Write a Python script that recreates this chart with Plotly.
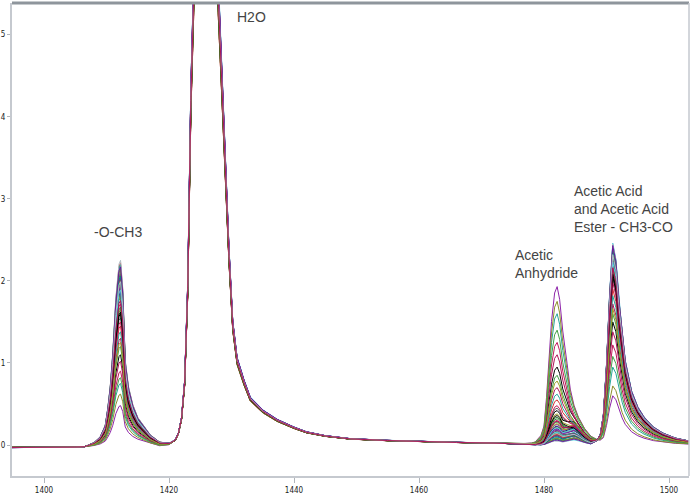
import numpy as np
import plotly.graph_objects as go

# wavelength grid (nm)
wn = [1394, 1397, 1400, 1403, 1405, 1406.5, 1408, 1409, 1409.8, 1410.2, 1410.6, 1411, 1411.5, 1412,
      1412.25, 1412.6, 1413, 1413.5, 1414.2, 1415, 1415.8, 1417, 1418.5, 1420, 1421, 1421.5, 1422,
      1422.5, 1423, 1423.5, 1424, 1424.5, 1425, 1426, 1427, 1427.8, 1428.5, 1429, 1429.6, 1430.2,
      1430.9, 1432, 1433, 1435, 1437.3, 1440, 1442, 1445, 1449, 1455, 1460, 1466, 1472, 1476, 1478,
      1478.6, 1479.5, 1480, 1480.4, 1480.7, 1481.2, 1481.7, 1482.1, 1482.5, 1483, 1483.7, 1484.2,
      1484.8, 1485.5, 1486.5, 1487.5, 1488.5, 1489, 1489.5, 1490, 1490.5, 1491, 1491.5, 1492, 1492.5,
      1493, 1494, 1495, 1496, 1497.5, 1499, 1501, 1503.2]

# baseline + water band (common to all spectra)
base = [-0.03, -0.03, -0.03, -0.028, -0.025, -0.02, -0.015, -0.01, -0.005, 0.0, 0.0, 0.0, 0.0, 0.0,
        0.0, 0.0, 0.0, 0.0, 0.0, 0.0, 0.0, -0.01, -0.02, 0.0, 0.06, 0.14, 0.32,
        0.75, 1.9, 4.2, 5.6, 6.0, 6.3, 6.4, 6.2, 5.6, 4.3, 3.2, 2.3, 1.45,
        1.02, 0.76, 0.56, 0.41, 0.30, 0.21, 0.155, 0.11, 0.075, 0.055, 0.042, 0.032, 0.024, 0.015, 0.005,
        0.0, 0.0, 0.0, 0.0, 0.0, 0.0, 0.0, 0.0, 0.0, 0.0, 0.0, 0.0,
        0.0, 0.0, 0.0, 0.0, 0.0, 0.0, 0.0, 0.0, 0.0, 0.0, 0.0, 0.0, 0.0,
        0.0, 0.0, 0.0, 0.0, 0.0, 0.0, 0.0, 0.0]
assert len(base) == len(wn)

# normalised band shapes
och3_band = {1406.5: 0.0, 1408: 0.02, 1409: 0.05, 1409.8: 0.11, 1410.2: 0.2, 1410.6: 0.32, 1411: 0.5,
             1411.5: 0.8, 1412: 0.98, 1412.25: 1.0, 1412.6: 0.85, 1413: 0.46, 1413.5: 0.32, 1414.2: 0.22,
             1415: 0.15, 1415.8: 0.11, 1417: 0.06, 1418.5: 0.025, 1420: 0.01}
anh_band = {1478: 0.01, 1478.6: 0.02, 1479.5: 0.06, 1480: 0.12, 1480.4: 0.3, 1480.7: 0.5, 1481.2: 0.78,
            1481.7: 0.96, 1482.1: 1.0, 1482.5: 0.92, 1483: 0.72, 1483.7: 0.5, 1484.2: 0.33, 1484.8: 0.22,
            1485.5: 0.15, 1486.5: 0.09, 1487.5: 0.05, 1488.5: 0.025, 1489: 0.015}
shoulder_band = {1483.7: 0.4, 1484.2: 0.75, 1484.8: 1.0, 1485.5: 0.85, 1486.5: 0.45, 1487.5: 0.2,
                 1488.5: 0.08, 1489: 0.03}
acid_band = {1488.5: 0.02, 1489: 0.05, 1489.5: 0.15, 1490: 0.4, 1490.5: 0.75, 1491: 1.0, 1491.5: 0.92,
             1492: 0.72, 1492.5: 0.55, 1493: 0.42, 1494: 0.27, 1495: 0.19, 1496: 0.14, 1497.5: 0.09,
             1499: 0.06, 1501: 0.035, 1503.2: 0.02}

# per-spectrum band heights
och3 = [0.48, 1.85, 2.22, 0.75, 1.95, 2.10, 1.55, 0.90, 2.05, 1.80, 2.18, 1.10, 1.92, 1.65, 2.12, 1.30,
        1.88, 2.00, 1.45, 2.15, 0.62, 1.90, 2.08, 1.72, 2.20, 1.20, 1.98, 1.60, 2.03, 1.83, 2.25, 1.02,
        1.93, 1.68, 2.01, 1.38, 2.14, 1.86, 1.97, 1.50, 2.06, 0.82, 1.89, 1.62, 2.17, 1.25, 1.99, 1.76]
water = [1.0, 0.98, 1.03, 0.97, 1.01, 1.04, 0.99, 0.96, 1.02, 1.0, 1.05, 0.98, 1.01, 0.97, 1.03, 0.99,
         1.02, 1.0, 0.96, 1.04, 0.98, 1.01, 0.99, 1.03, 0.97, 1.0, 1.02, 0.98, 1.04, 0.99, 1.01, 0.97,
         1.03, 1.0, 0.98, 1.02, 0.96, 1.01, 0.99, 1.03, 1.0, 0.97, 1.02, 0.98, 1.04, 0.99, 1.01, 1.0]
anhydride = [1.93, 0.32, 0.12, 1.60, 0.22, 0.08, 0.45, 1.25, 0.15, 0.28, 0.06, 0.95, 0.18, 0.38, 0.10, 0.70,
             0.25, 0.14, 0.55, 0.09, 1.75, 0.20, 0.12, 0.30, 0.07, 0.85, 0.16, 0.42, 0.11, 0.26, 0.05, 1.10,
             0.19, 0.34, 0.13, 0.62, 0.08, 0.23, 0.17, 0.48, 0.10, 1.40, 0.21, 0.36, 0.06, 0.78, 0.14, 0.29]
shoulder = [0.06, 0.12, 0.08, 0.10, 0.14, 0.07, 0.16, 0.09, 0.11, 0.18, 0.05, 0.13, 0.10, 0.15, 0.08, 0.12,
            0.17, 0.09, 0.14, 0.06, 0.08, 0.13, 0.10, 0.16, 0.07, 0.11, 0.12, 0.19, 0.09, 0.15, 0.06, 0.10,
            0.14, 0.12, 0.08, 0.13, 0.07, 0.16, 0.11, 0.14, 0.09, 0.10, 0.15, 0.13, 0.06, 0.12, 0.10, 0.17]
acid = [0.60, 2.18, 2.40, 0.95, 2.28, 2.44, 2.02, 1.22, 2.35, 2.20, 2.46, 1.50, 2.30, 2.10, 2.38, 1.72,
        2.24, 2.33, 1.90, 2.42, 0.72, 2.26, 2.36, 2.15, 2.41, 1.60, 2.31, 2.05, 2.37, 2.22, 2.45, 1.38,
        2.27, 2.12, 2.34, 1.82, 2.39, 2.25, 2.29, 1.98, 2.36, 1.08, 2.23, 2.08, 2.43, 1.66, 2.32, 2.16]

colors = ['#8E24AA', '#2E7D32', '#D32F2F', '#26A69A', '#8D8D2A', '#1A237E', '#616161', '#C2185B',
          '#00897B', '#43A047', '#4DD0E1', '#000000', '#6A1B9A', '#9E9D24', '#B0BEC5', '#AD1457']

x_ticks = [1400, 1420, 1440, 1460, 1480, 1500]
y_ticks = [0, 1, 2, 3, 4, 5]


def band(d):
    return np.array([d.get(x, 0.0) for x in wn])


B = np.array(base)
P_och3, P_anh, P_sh, P_ac = band(och3_band), band(anh_band), band(shoulder_band), band(acid_band)

fig = go.Figure()
for i in range(len(och3)):
    y = (B * water[i] + och3[i] * P_och3 + anhydride[i] * P_anh
         + shoulder[i] * P_sh + acid[i] * P_ac)
    fig.add_trace(go.Scatter(x=wn, y=y, mode='lines',
                             line=dict(color=colors[i % len(colors)], width=1),
                             showlegend=False, hoverinfo='skip'))

ann_font = dict(family='Liberation Sans, Arial, sans-serif', size=14, color='#444444')
labels = [
    (1430.56, 5.21, 'H2O'),
    (1407.68, 2.60, '-O-CH3'),
    (1475.04, 2.21, 'Acetic<br>Anhydride'),
    (1484.48, 2.87, 'Acetic Acid<br>and Acetic Acid<br>Ester - CH3-CO'),
]
for lx, ly, txt in labels:
    fig.add_annotation(x=lx, y=ly, text=txt, showarrow=False, xanchor='left', yanchor='middle',
                       align='left', font=ann_font)

tickfont = dict(family='DejaVu Sans Condensed, Liberation Sans Narrow, sans-serif', size=8, color='#222')
fig.update_layout(
    width=690, height=496,
    margin=dict(l=12, r=1, t=3, b=20, autoexpand=False),
    paper_bgcolor='white', plot_bgcolor='white',
    xaxis=dict(range=[1394.88, 1503.2], tickvals=x_ticks, showgrid=False, zeroline=False,
               automargin=False,
               showline=True, linecolor='#C5C9CF', linewidth=2, ticks='outside', ticklen=5,
               tickcolor='#B0B4BA', tickfont=tickfont),
    yaxis=dict(range=[-0.377, 5.385], tickvals=y_ticks, showgrid=False, zeroline=False,
               automargin=False,
               showline=True, linecolor='#C5C9CF', linewidth=2, ticks='outside', ticklen=3,
               tickcolor='#B0B4BA', tickfont=tickfont),
    shapes=[
        dict(type='line', xref='paper', yref='paper', x0=0, x1=1, y0=1, y1=1,
             line=dict(color='#8E959C', width=3)),
        dict(type='line', xref='paper', yref='paper', x0=1, x1=1, y0=0, y1=1,
             line=dict(color='#C5C9CF', width=1.5)),
    ],
)

fig.write_html('out.html')
